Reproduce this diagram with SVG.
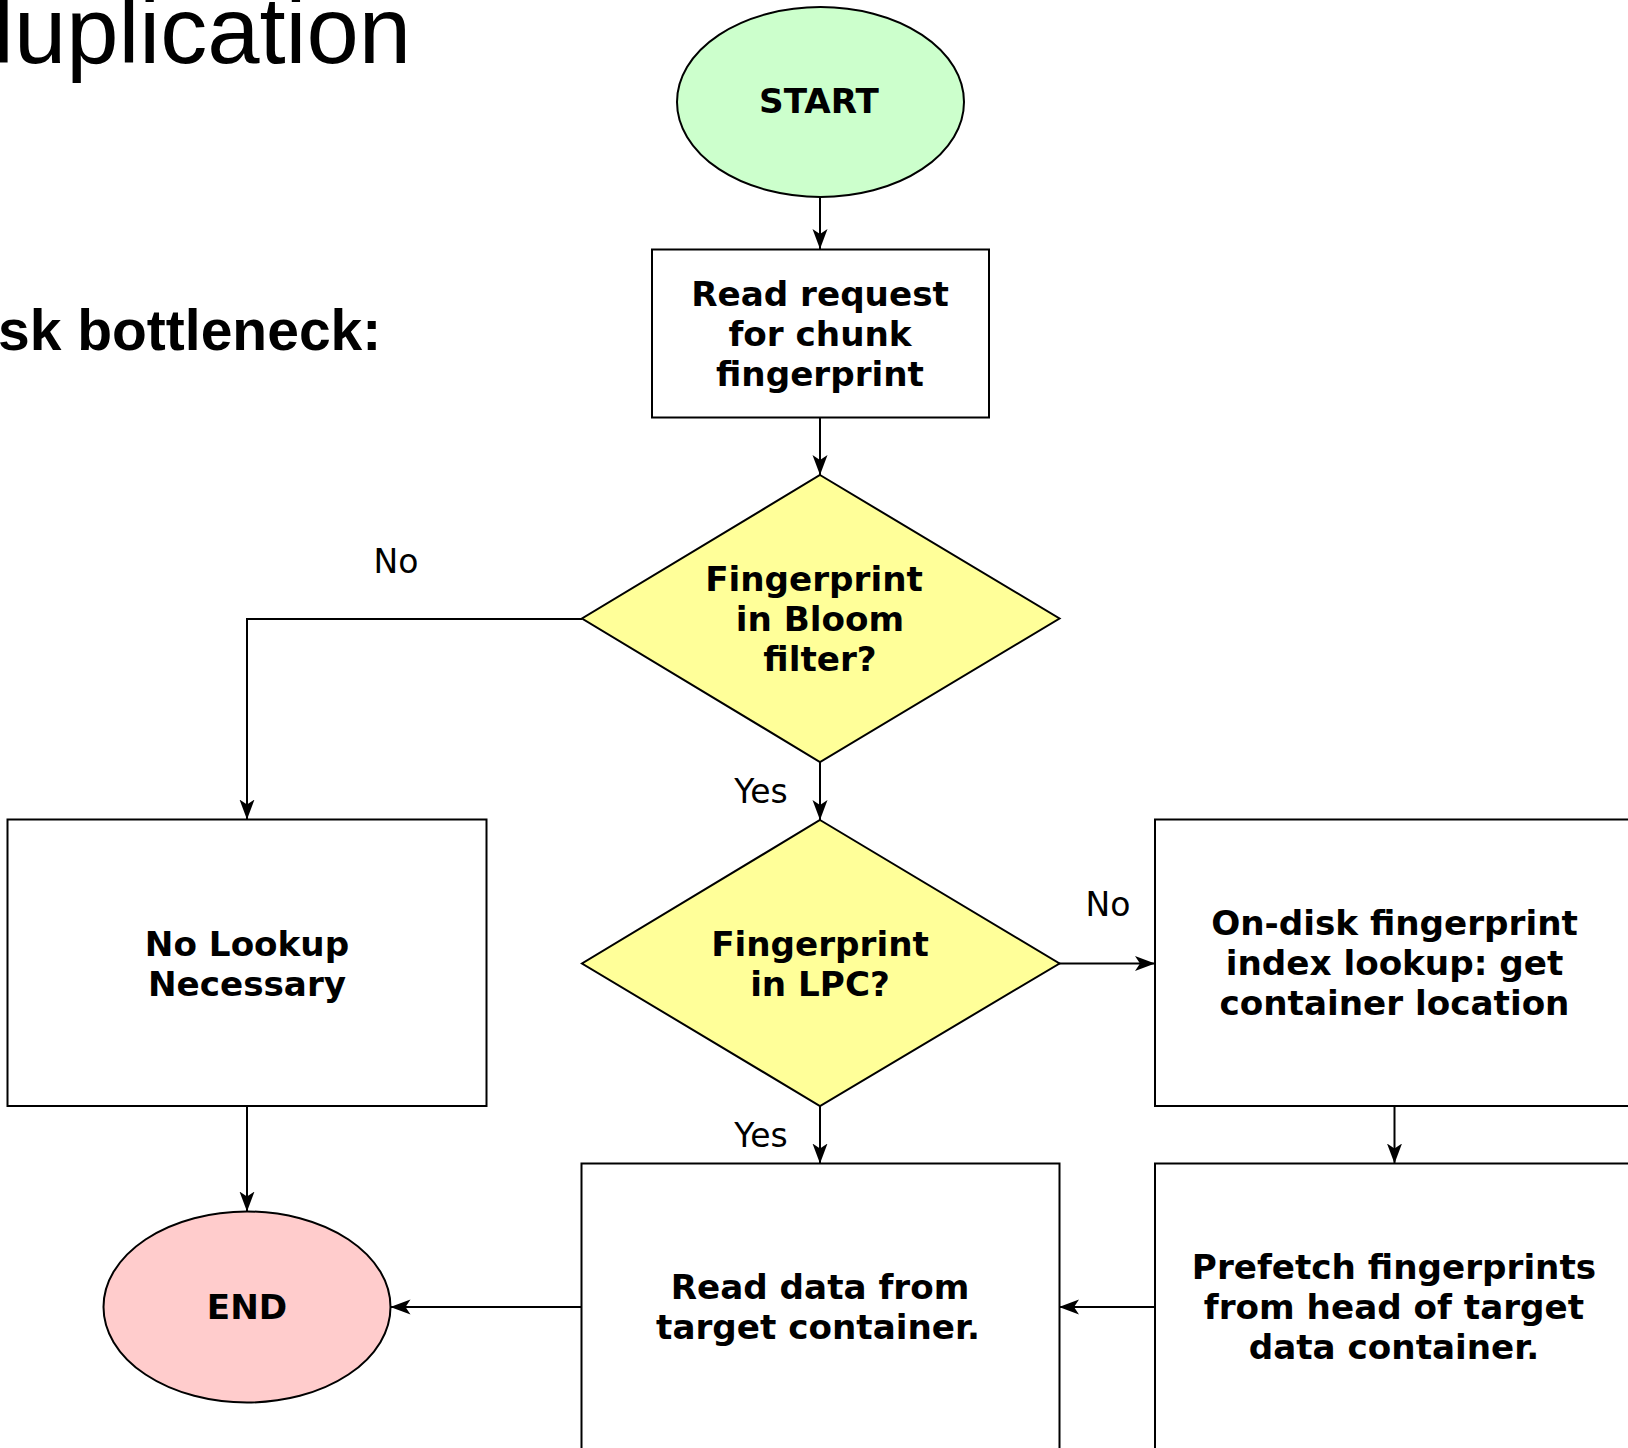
<svg xmlns="http://www.w3.org/2000/svg" width="1628" height="1448" viewBox="0 0 1628 1448">
<defs>
<style>
.node{stroke:#000;stroke-width:2;}
.box{fill:#fff;}
.dia{fill:#ffff99;}
.t{font-family:"DejaVu Sans","Noto Sans",sans-serif;font-weight:bold;font-size:34.2px;text-anchor:middle;fill:#000;}
.lbl{font-family:"DejaVu Sans","Noto Sans",sans-serif;font-size:33px;text-anchor:middle;fill:#000;}
.edge{fill:none;stroke:#000;stroke-width:2;marker-end:url(#arr);}
</style>
<marker id="arr" viewBox="0 0 20 16" refX="20" refY="8" markerWidth="20" markerHeight="16" markerUnits="userSpaceOnUse" orient="auto">
<path d="M20,8 L0,0.5 L5,8 L0,15.5 Z" fill="#000"/>
</marker>
</defs>
<rect width="1628" height="1448" fill="#fff"/>
<text x="-7" y="63" font-family="Liberation Sans, Arial, sans-serif" font-size="94">luplication</text>
<text x="-2" y="350" font-family="Liberation Sans, Arial, sans-serif" font-size="57" font-weight="bold">sk bottleneck:</text>
<g id="connectors">
<path class="edge" d="M820,197 L820,249"/>
<path class="edge" d="M820,417.5 L820,475"/>
<path class="edge" d="M582,619 L247,619 L247,819.5"/>
<path class="edge" d="M820,762 L820,820"/>
<path class="edge" d="M1059,963.5 L1155,963.5"/>
<path class="edge" d="M820,1106 L820,1163.5"/>
<path class="edge" d="M247,1106 L247,1211.5"/>
<path class="edge" d="M1394.5,1106 L1394.5,1163.5"/>
<path class="edge" d="M1155,1307 L1059,1307"/>
<path class="edge" d="M581.5,1307 L390.5,1307"/>
<text class="lbl" x="396" y="573">No</text>
<text class="lbl" x="761" y="803">Yes</text>
<text class="lbl" x="1108" y="916">No</text>
<text class="lbl" x="761" y="1147">Yes</text>
</g>
<g id="start">
<ellipse class="node" cx="820.5" cy="102" rx="143.5" ry="95" fill="#ccffcc"/>
<text class="t" x="819" y="113">START</text>
</g>
<g id="read-request">
<rect class="node box" x="652" y="249.5" width="337" height="168"/>
<text class="t" x="820" y="306">Read request</text>
<text class="t" x="820" y="346">for chunk</text>
<text class="t" x="820" y="386">fingerprint</text>
</g>
<g id="bloom">
<polygon class="node dia" points="820,475 1059.5,618.5 820,762 582,618.5"/>
<text class="t" x="814" y="591">Fingerprint</text>
<text class="t" x="820" y="631">in Bloom</text>
<text class="t" x="820" y="671">filter?</text>
</g>
<g id="lpc">
<polygon class="node dia" points="820,820 1059.5,963.5 820,1106 582,963.5"/>
<text class="t" x="820" y="956">Fingerprint</text>
<text class="t" x="820" y="996">in LPC?</text>
</g>
<g id="no-lookup">
<rect class="node box" x="7.5" y="819.5" width="479" height="286.5"/>
<text class="t" x="247" y="956">No Lookup</text>
<text class="t" x="247" y="996">Necessary</text>
</g>
<g id="on-disk">
<rect class="node box" x="1155" y="819.5" width="479" height="286.5"/>
<text class="t" x="1394.5" y="935">On-disk fingerprint</text>
<text class="t" x="1394.5" y="975">index lookup: get</text>
<text class="t" x="1394.5" y="1015">container location</text>
</g>
<g id="prefetch">
<rect class="node box" x="1155" y="1163.5" width="479" height="286.5"/>
<text class="t" x="1394" y="1279">Prefetch fingerprints</text>
<text class="t" x="1394" y="1319">from head of target</text>
<text class="t" x="1394" y="1359">data container.</text>
</g>
<g id="read-data">
<rect class="node box" x="581.5" y="1163.5" width="478" height="286.5"/>
<text class="t" x="820" y="1299">Read data from</text>
<text class="t" x="818" y="1339">target container.</text>
</g>
<g id="end">
<ellipse class="node" cx="247" cy="1307" rx="143.5" ry="95.5" fill="#ffcccc"/>
<text class="t" x="247" y="1319">END</text>
</g>
</svg>
